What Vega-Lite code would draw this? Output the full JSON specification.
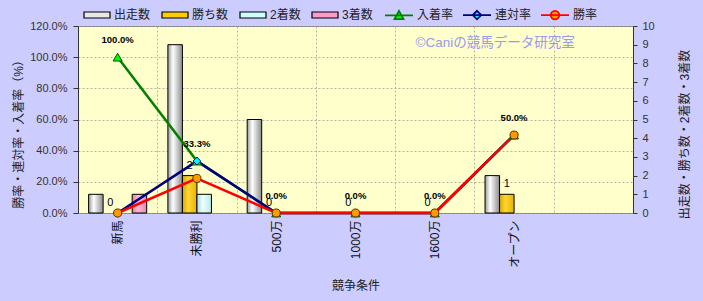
{
  "$schema": "https://vega.github.io/schema/vega-lite/v6.json",
  "width": 555,
  "height": 187,
  "autosize": {"type": "none"},
  "padding": {"left": 78, "top": 26, "right": 70, "bottom": 88},
  "background": "#CCCCFF",
  "config": {
    "font": "Liberation Sans, Noto Sans CJK JP",
    "view": {"fill": "#FFFFCC", "stroke": "#808080", "strokeWidth": 1},
    "axis": {
      "labelColor": "#333333",
      "titleColor": "#222222",
      "domainColor": "#333333",
      "tickColor": "#333333",
      "labelFontSize": 11,
      "titleFontSize": 12,
      "titleFontWeight": "normal",
      "gridColor": "#A0A0A0",
      "gridDash": [2, 2],
      "gridWidth": 0.8
    },
    "legend": {
      "labelFontSize": 12,
      "labelColor": "#222222",
      "columnPadding": 5,
      "labelOffset": 24,
      "padding": 0,
      "offset": 3,
      "rowPadding": 0
    }
  },
  "datasets": {
    "bars": [
      {"cat": "新馬", "s": "出走数", "n": 1},
      {"cat": "新馬", "s": "勝ち数", "n": 0},
      {"cat": "新馬", "s": "2着数", "n": 0},
      {"cat": "新馬", "s": "3着数", "n": 1},
      {"cat": "未勝利", "s": "出走数", "n": 9},
      {"cat": "未勝利", "s": "勝ち数", "n": 2},
      {"cat": "未勝利", "s": "2着数", "n": 1},
      {"cat": "未勝利", "s": "3着数", "n": 0},
      {"cat": "500万", "s": "出走数", "n": 5},
      {"cat": "500万", "s": "勝ち数", "n": 0},
      {"cat": "500万", "s": "2着数", "n": 0},
      {"cat": "500万", "s": "3着数", "n": 0},
      {"cat": "1000万", "s": "出走数", "n": 0},
      {"cat": "1000万", "s": "勝ち数", "n": 0},
      {"cat": "1000万", "s": "2着数", "n": 0},
      {"cat": "1000万", "s": "3着数", "n": 0},
      {"cat": "1600万", "s": "出走数", "n": 0},
      {"cat": "1600万", "s": "勝ち数", "n": 0},
      {"cat": "1600万", "s": "2着数", "n": 0},
      {"cat": "1600万", "s": "3着数", "n": 0},
      {"cat": "オープン", "s": "出走数", "n": 2},
      {"cat": "オープン", "s": "勝ち数", "n": 1},
      {"cat": "オープン", "s": "2着数", "n": 0},
      {"cat": "オープン", "s": "3着数", "n": 0}
    ],
    "rates": [
      {"cat": "新馬", "ls": "入着率", "r": 1.0},
      {"cat": "未勝利", "ls": "入着率", "r": 0.333},
      {"cat": "500万", "ls": "入着率", "r": 0},
      {"cat": "1000万", "ls": "入着率", "r": 0},
      {"cat": "1600万", "ls": "入着率", "r": 0},
      {"cat": "オープン", "ls": "入着率", "r": 0.5},
      {"cat": "新馬", "ls": "連対率", "r": 0},
      {"cat": "未勝利", "ls": "連対率", "r": 0.333},
      {"cat": "500万", "ls": "連対率", "r": 0},
      {"cat": "1000万", "ls": "連対率", "r": 0},
      {"cat": "1600万", "ls": "連対率", "r": 0},
      {"cat": "オープン", "ls": "連対率", "r": 0.5},
      {"cat": "新馬", "ls": "勝率", "r": 0},
      {"cat": "未勝利", "ls": "勝率", "r": 0.222},
      {"cat": "500万", "ls": "勝率", "r": 0},
      {"cat": "1000万", "ls": "勝率", "r": 0},
      {"cat": "1600万", "ls": "勝率", "r": 0},
      {"cat": "オープン", "ls": "勝率", "r": 0.5}
    ]
  },
  "encoding": {
    "x": {
      "field": "cat",
      "type": "nominal",
      "sort": null,
      "scale": {"domain": ["新馬", "未勝利", "500万", "1000万", "1600万", "オープン", ""], "paddingInner": 0, "paddingOuter": 0},
      "axis": {
        "title": "競争条件",
        "labelAngle": -90,
        "tickBand": "extent",
        "grid": true,
        "ticks": false,
        "domain": false,
        "labelFontSize": 12,
        "labelPadding": 7,
        "titlePadding": 12,
        "labelColor": "#111111"
      }
    }
  },
  "layer": [
    {
      "data": {"name": "bars"},
      "encoding": {
        "y": {
          "field": "n",
          "type": "quantitative",
          "scale": {"domain": [0, 10]},
          "axis": {
            "orient": "right",
            "values": [0, 1, 2, 3, 4, 5, 6, 7, 8, 9, 10],
            "title": "出走数・勝ち数・2着数・3着数",
            "titleAngle": -90,
            "titleY": 108,
            "grid": false,
            "tickSize": 4,
            "labelPadding": 5,
            "titlePadding": 37
          }
        },
        "xOffset": {
          "field": "s",
          "type": "nominal",
          "sort": null,
          "scale": {"domain": ["出走数", "勝ち数", "2着数", "3着数"], "paddingInner": 0, "paddingOuter": 0.73}
        }
      },
      "layer": [
        {
          "transform": [{"filter": "datum.n > 0"}],
          "mark": {"type": "bar", "stroke": "#000000", "strokeWidth": 1},
          "encoding": {
            "fill": {
              "field": "s",
              "type": "nominal",
              "scale": {"domain": ["出走数", "勝ち数", "2着数", "3着数"], "range": ["#E8E8E8", "#FFCC00", "#CCFFFF", "#FF99CC"]},
              "legend": {
                "orient": "top",
                "direction": "horizontal",
                "title": null,
                "symbolType": "M0,-0.6H5.2V0.6H0Z",
                "symbolSize": 100,
                "symbolStrokeColor": "#000000",
                "symbolStrokeWidth": 1,
                "encode": {
                  "symbols": {
                    "update": {
                      "stroke": {"value": "#000000"},
                      "strokeWidth": {"value": 1.2},
                      "fill": {"signal": "datum.value === '出走数' ? {gradient: 'linear', x1: 0, y1: 0, x2: 1, y2: 0, stops: [{offset: 0, color: '#9A9A9A'}, {offset: 0.35, color: '#FFFFFF'}, {offset: 1, color: '#8C8C8C'}]} : datum.value === '勝ち数' ? {gradient: 'linear', x1: 0, y1: 0, x2: 1, y2: 0, stops: [{offset: 0, color: '#D9A800'}, {offset: 0.4, color: '#FFD633'}, {offset: 1, color: '#E6B400'}]} : datum.value === '2着数' ? {gradient: 'linear', x1: 0, y1: 0, x2: 1, y2: 0, stops: [{offset: 0, color: '#A8DCDC'}, {offset: 0.4, color: '#EEFFFF'}, {offset: 1, color: '#B8EAEA'}]} : {gradient: 'linear', x1: 0, y1: 0, x2: 1, y2: 0, stops: [{offset: 0, color: '#D97FA6'}, {offset: 0.4, color: '#FFB8D6'}, {offset: 1, color: '#E68AB2'}]}"}
                    }
                  }
                }
              },
              "condition": [
                {"test": "datum.s === '出走数'", "value": {"gradient": "linear", "x1": 0, "y1": 0, "x2": 1, "y2": 0, "stops": [{"offset": 0, "color": "#9A9A9A"}, {"offset": 0.35, "color": "#FFFFFF"}, {"offset": 1, "color": "#8C8C8C"}]}},
                {"test": "datum.s === '勝ち数'", "value": {"gradient": "linear", "x1": 0, "y1": 0, "x2": 1, "y2": 0, "stops": [{"offset": 0, "color": "#D9A800"}, {"offset": 0.4, "color": "#FFD633"}, {"offset": 1, "color": "#E6B400"}]}},
                {"test": "datum.s === '2着数'", "value": {"gradient": "linear", "x1": 0, "y1": 0, "x2": 1, "y2": 0, "stops": [{"offset": 0, "color": "#A8DCDC"}, {"offset": 0.4, "color": "#EEFFFF"}, {"offset": 1, "color": "#B8EAEA"}]}},
                {"test": "datum.s === '3着数'", "value": {"gradient": "linear", "x1": 0, "y1": 0, "x2": 1, "y2": 0, "stops": [{"offset": 0, "color": "#D97FA6"}, {"offset": 0.4, "color": "#FFB8D6"}, {"offset": 1, "color": "#E68AB2"}]}}
              ]
            }
          }
        },
        {
          "transform": [{"filter": "datum.s === '勝ち数'"}],
          "mark": {"type": "text", "baseline": "bottom", "dy": -5, "fontSize": 11, "color": "#000000"},
          "encoding": {"text": {"field": "n", "type": "quantitative"}}
        }
      ]
    },
    {
      "data": {"name": "rates"},
      "encoding": {
        "y": {
          "field": "r",
          "type": "quantitative",
          "scale": {"domain": [0, 1.2]},
          "axis": {
            "orient": "left",
            "values": [0, 0.2, 0.4, 0.6, 0.8, 1, 1.2],
            "format": ".1%",
            "title": "勝率・連対率・入着率（%）",
            "titleY": 105,
            "grid": true,
            "tickSize": 5,
            "labelPadding": 6,
            "titlePadding": 4
          }
        }
      },
      "layer": [
        {
          "mark": {"type": "line", "strokeWidth": 2.5},
          "encoding": {
            "stroke": {
              "field": "ls",
              "type": "nominal",
              "scale": {"domain": ["入着率", "連対率", "勝率"], "range": ["#008000", "#000080", "#FF0000"]},
              "legend": {
                "orient": "top",
                "direction": "horizontal",
                "title": null,
                "symbolSize": 100,
                "symbolStrokeWidth": 2,
                "encode": {
                  "symbols": {
                    "update": {
                      "shape": {"signal": "datum.value === '入着率' ? 'M-0.4,0H5.2M2.4,-0.9L3.3,0.75L1.5,0.75Z' : datum.value === '連対率' ? 'M-0.4,0H5.2M2.4,-0.85L3.25,0L2.4,0.85L1.55,0Z' : 'M-0.4,0H5.2M3.25,0A0.85,0.85,0,1,1,1.55,0A0.85,0.85,0,1,1,3.25,0Z'"},
                      "strokeWidth": {"value": 1.8},
                      "fill": {"signal": "datum.value === '入着率' ? '#00FF00' : datum.value === '連対率' ? '#00FFFF' : '#FF9900'"}
                    }
                  }
                }
              }
            }
          }
        },
        {
          "transform": [{"filter": "datum.ls === '入着率'"}],
          "mark": {"type": "point", "shape": "triangle-up", "filled": true, "fill": "#00FF00", "stroke": "#005000", "strokeWidth": 1, "size": 80, "opacity": 1}
        },
        {
          "transform": [{"filter": "datum.ls === '連対率'"}],
          "mark": {"type": "point", "shape": "diamond", "filled": true, "fill": "#00FFFF", "stroke": "#000080", "strokeWidth": 1, "size": 60, "opacity": 1}
        },
        {
          "transform": [{"filter": "datum.ls === '勝率'"}],
          "mark": {"type": "point", "shape": "circle", "filled": true, "fill": "#FF9900", "stroke": "#603000", "strokeWidth": 1, "size": 65, "opacity": 1}
        },
        {
          "transform": [{"filter": "datum.ls === '入着率'"}],
          "mark": {"type": "text", "dy": -17, "fontSize": 9.5, "fontWeight": "bold", "color": "#000000"},
          "encoding": {"text": {"field": "r", "type": "quantitative", "format": ".1%"}}
        }
      ]
    },
    {
      "data": {"values": [{"t": "©Caniの競馬データ研究室"}]},
      "mark": {"type": "text", "fontSize": 13.5, "color": "#9999EE", "dx": -19},
      "encoding": {
        "x": {"datum": "オープン"},
        "y": {"datum": 1.09, "type": "quantitative", "scale": {"domain": [0, 1.2]}, "axis": null},
        "text": {"field": "t", "type": "nominal"}
      }
    }
  ],
  "resolve": {"scale": {"y": "independent"}}
}
